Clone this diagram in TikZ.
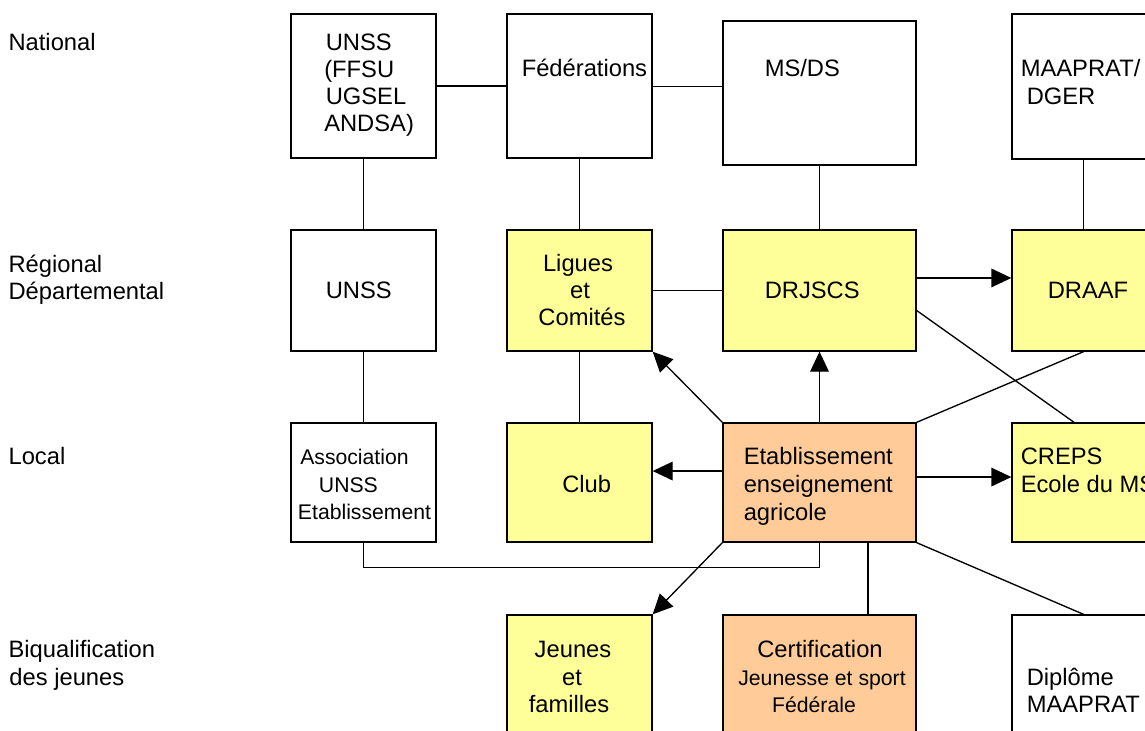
\documentclass[tikz,border=0pt]{standalone}
\usepackage{fontspec}
\setmainfont{Liberation Sans}
\usetikzlibrary{arrows.meta,fit}
\definecolor{boxyellow}{HTML}{FFFF99}
\definecolor{boxorange}{HTML}{FFCC99}
\begin{document}
\begin{tikzpicture}[x=0.75pt,y=-0.75pt,
  boxw/.style={draw=black, line width=1pt, inner sep=0pt, fill=white},
  boxy/.style={boxw, fill=boxyellow},
  boxo/.style={boxw, fill=boxorange},
  conn/.style={line width=1pt, draw=black},
  arr/.style={conn, -{Triangle[length=15pt,width=14pt]}},
  txt/.style={inner sep=0pt, anchor=base west, font=\fontsize{17.8}{20.6}\selectfont},
  txtc/.style={txt, anchor=base},
  small/.style={font=\fontsize{15.9}{18}\selectfont}]
\clip (0,0) rectangle (1145,731);
\fill[white] (0,0) rectangle (1145,731);

% boxes
\node[boxw, fit={(291,14) (436,158)}] (unssN) {};
\node[boxw, fit={(507,14) (652,158)}] (fed) {};
\node[boxw, fit={(723,21) (916,165)}] (msds) {};
\node[boxw, fit={(1012,14) (1155,159)}] (maap) {};
\node[boxw, fit={(291,230) (436,351)}] (unssR) {};
\node[boxy, fit={(507,230) (652,351)}] (ligues) {};
\node[boxy, fit={(723,230) (916,351)}] (drjscs) {};
\node[boxy, fit={(1012,230) (1155,351)}] (draaf) {};
\node[boxw, fit={(291,423) (436,542)}] (asso) {};
\node[boxy, fit={(507,423) (652,542)}] (club) {};
\node[boxo, fit={(723,423) (916,542)}] (etab) {};
\node[boxy, fit={(1012,423) (1155,542)}] (creps) {};
\node[boxy, fit={(507,615) (652,745)}] (jeunes) {};
\node[boxo, fit={(723,615) (916,745)}] (certif) {};
\node[boxw, fit={(1012,615) (1155,745)}] (dipl) {};

% level labels
\node[txt] (lNat) at (8.3,51) {National};
\node[txt] (lReg) at (8.3,272) {Régional};
\node[txt] (lDep) at (8.3,299) {Départemental};
\node[txt] (lLoc) at (8.3,464) {Local};
\node[txt] (lBiq) at (8.3,657) {Biqualification};
\node[txt] (lDes) at (9.2,685) {des jeunes};

% box texts
\node[txt] (tU1) at (325.5,51) {UNSS};
\node[txt] (tU2) at (324,78) {(FFSU};
\node[txt] (tU3) at (325.5,105) {UGSEL};
\node[txt] (tU4) at (324,132) {ANDSA)};
\node[txt] (tFed) at (521.5,77) {Fédérations};
\node[txt] (tMs) at (764.5,77) {MS/DS};
\node[txt] (tMa1) at (1020.5,77) {MAAPRAT/};
\node[txt] (tMa2) at (1026.5,104.5) {DGER};
\node[txt] (tUR) at (325.5,298) {UNSS};
\node[txtc] (tL1) at (578,271) {Ligues};
\node[txtc] (tL2) at (580,298) {et};
\node[txtc] (tL3) at (582,325) {Comités};
\node[txt] (tDr) at (764.5,298) {DRJSCS};
\node[txt] (tDa) at (1047.5,298) {DRAAF};
\node[txt, small] (tA1) at (300,464) {Association};
\node[txt, small] (tA2) at (318.7,492) {UNSS};
\node[txt, small] (tA3) at (297.7,519) {Etablissement};
\node[txt] (tClub) at (562,492) {Club};
\node[txt] (tE1) at (743.5,464) {Etablissement};
\node[txt] (tE2) at (743.5,492) {enseignement};
\node[txt] (tE3) at (743.5,520) {agricole};
\node[txt] (tC1) at (1020.5,464) {CREPS};
\node[txt] (tC2) at (1020.5,492) {Ecole du MS};
\node[txtc] (tJ1) at (573,657) {Jeunes};
\node[txtc] (tJ2) at (572,685) {et};
\node[txtc] (tJ3) at (569,712) {familles};
\node[txtc] (tCe1) at (820,657) {Certification};
\node[txtc, small] (tCe2) at (822,685) {Jeunesse et sport};
\node[txtc, small] (tCe3) at (814,712) {Fédérale};
\node[txt] (tD1) at (1026.5,685) {Diplôme};
\node[txt] (tD2) at (1026.5,712) {MAAPRAT};

% connectors
\draw[conn] (unssN) -- (fed);
\draw[conn] ([yshift=-0.4pt]fed.east) -- ([yshift=-0.4pt]fed.east -| msds.west);
\draw[conn] (unssN) -- (unssR);
\draw[conn] (fed) -- (ligues);
\draw[conn] (msds) -- (drjscs);
\draw[conn] (maap) -- (draaf);
\draw[conn] (ligues) -- (drjscs);
\draw[arr] ([yshift=9.4pt]drjscs.east) -- ([yshift=9.4pt]draaf.west);
\draw[conn] ([yshift=-15pt]drjscs.east) -- ([xshift=-7.1pt]creps.north);
\draw[conn] (etab.north east) -- (draaf.south);
\draw[arr] (etab) -- (drjscs);
\draw[arr] (etab.north west) -- (ligues.south east);
\draw[arr] ([yshift=8.6pt]etab.west) -- ([yshift=8.6pt]club.east);
\draw[arr] ([yshift=4.1pt]etab.east) -- ([yshift=4.1pt]creps.west);
\draw[conn] (unssR) -- (asso);
\draw[conn] (ligues) -- (club);
\draw[conn] (asso.south) -- ++(0,25) -| (etab.south);
\draw[arr] (etab.south west) -- (jeunes.north east);
\draw[conn] ([xshift=36.4pt]etab.south) -- ([xshift=36.4pt]etab.south |- certif.north);
\draw[conn] (etab.south east) -- (dipl.north);
\end{tikzpicture}
\end{document}
